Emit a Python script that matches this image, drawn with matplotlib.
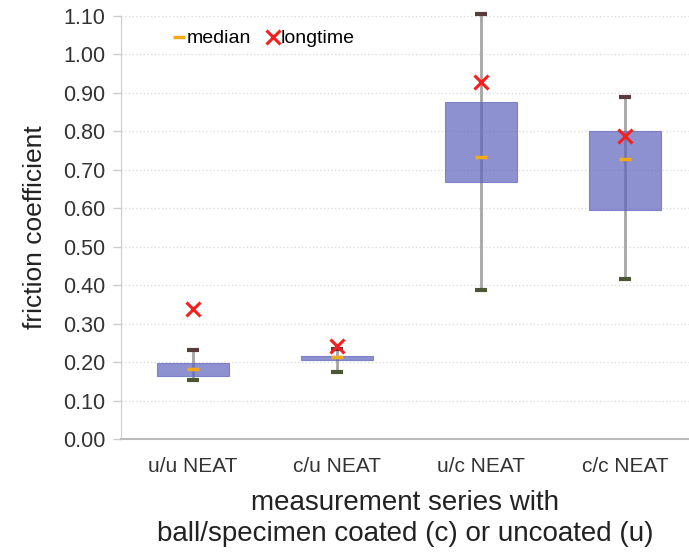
import matplotlib.pyplot as plt
from matplotlib.lines import Line2D
import numpy as np

plt.rcParams['font.family'] = ['Liberation Sans', 'DejaVu Sans']

categories = ["u/u NEAT", "c/u NEAT", "u/c NEAT", "c/c NEAT"]
q1 = [0.164, 0.206, 0.667, 0.595]
q3 = [0.198, 0.217, 0.875, 0.800]
medians = [0.181, 0.213, 0.734, 0.728]
whisk_lo = [0.153, 0.173, 0.387, 0.415]
whisk_hi = [0.232, 0.234, 1.104, 0.890]
longtime = [0.339, 0.243, 0.927, 0.787]
yticks = np.arange(0, 1.101, 0.1)

fig = plt.figure(figsize=(6.89, 5.53), dpi=100)
ax = fig.add_axes([0.1756, 0.2061, 0.8244, 0.7655])

x = np.arange(len(categories))
grey = '#a6a6a6'

# whiskers
ax.vlines(x, whisk_lo, whisk_hi, color=grey, lw=2, zorder=2, clip_on=False)
# boxes
ax.bar(x, np.array(q3) - np.array(q1), bottom=q1, width=0.5,
       color='#5e63bc', alpha=0.7, edgecolor='#5e63bc', lw=0.8, zorder=3)
# caps
ax.plot(x, whisk_hi, ls='none', marker='_', ms=9, mew=3, color='#5b3a3e', zorder=4, clip_on=False)
ax.plot(x, whisk_lo, ls='none', marker='_', ms=9, mew=3, color='#4b5733', zorder=4)
# medians
ax.plot(x, medians, ls='none', marker='_', ms=9, mew=2.5, color='#f2aa1c', zorder=5)
# longtime
ax.plot(x, longtime, ls='none', marker='x', ms=10, mew=2.2, color='#f5201e', zorder=6)

ax.set_ylim(0, 1.10)
ax.set_xlim(-0.5, 3.444)
ax.set_yticks(yticks)
ax.set_yticklabels([f"{v:.2f}" for v in yticks], fontsize=15.5, color='#333333')
ax.set_xticks(x)
ax.set_xticklabels(categories, fontsize=15, color='#333333')
ax.tick_params(axis='x', length=0, pad=13)
ax.tick_params(axis='y', length=6, color='#cccccc', width=1, pad=5)
ax.grid(axis='y', color='#dddddd', ls=':', lw=1)
ax.set_axisbelow(True)
for s in ['top', 'right']:
    ax.spines[s].set_visible(False)
ax.spines['left'].set_color('#cccccc')
ax.spines['bottom'].set_color('#bbbbbb')
ax.spines['bottom'].set_linewidth(1.5)

ax.set_ylabel("friction coefficient", fontsize=19, color='#222222', labelpad=12)
ax.set_xlabel("measurement series with\nball/specimen coated (c) or uncoated (u)",
              fontsize=20, color='#222222', labelpad=10, linespacing=1.25)

handles = [Line2D([], [], ls='none', marker='_', ms=9, mew=2.5, color='#f2aa1c'),
           Line2D([], [], ls='none', marker='x', ms=10, mew=2.2, color='#f5201e')]
ax.legend(handles, ["median", "longtime"], ncol=2, frameon=False, fontsize=14,
          loc='upper left', bbox_to_anchor=(0.061, 1.008), handlelength=0.6,
          handletextpad=0.12, columnspacing=0.8)

fig.savefig("out.png", dpi=100)
